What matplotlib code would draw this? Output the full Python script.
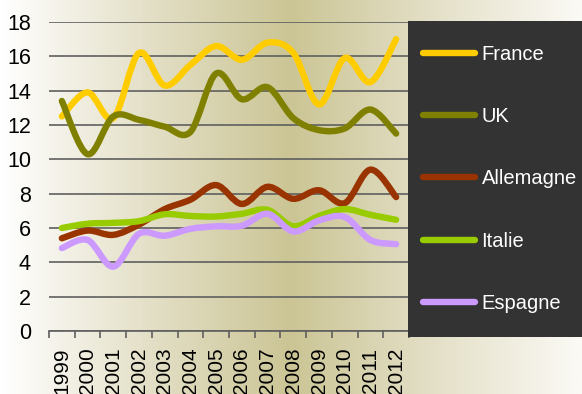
import numpy as np
import matplotlib.pyplot as plt
from matplotlib.path import Path
from matplotlib.patches import PathPatch
from matplotlib.lines import Line2D
from matplotlib.colors import LinearSegmentedColormap

plt.rcParams['font.family'] = ['Liberation Sans', 'DejaVu Sans']

years = [str(y) for y in range(1999, 2013)]
france = [12.5, 13.9, 12.4, 16.2, 14.3, 15.5, 16.6, 15.8, 16.8, 16.2, 13.2, 15.9, 14.5, 17.0]
uk = [13.4, 10.3, 12.5, 12.3, 11.9, 11.6, 15.0, 13.5, 14.2, 12.4, 11.7, 11.8, 12.9, 11.5]
allemagne = [5.4, 5.85, 5.6, 6.2, 7.1, 7.65, 8.5, 7.4, 8.4, 7.7, 8.2, 7.45, 9.4, 7.8]
italie = [6.0, 6.25, 6.3, 6.4, 6.8, 6.7, 6.67, 6.83, 7.06, 6.1, 6.7, 7.1, 6.77, 6.48]
espagne = [4.83, 5.3, 3.75, 5.66, 5.55, 5.95, 6.1, 6.13, 6.83, 5.8, 6.44, 6.64, 5.3, 5.06]

series = [
    ('France', france, '#FFCC00'),
    ('UK', uk, '#808000'),
    ('Allemagne', allemagne, '#993300'),
    ('Italie', italie, '#99CC00'),
    ('Espagne', espagne, '#CC99FF'),
]


def smooth_path(xs, ys):
    # Bezier smoothing through every point (same idea as spreadsheet "smoothed line")
    p = np.column_stack([xs, ys]).astype(float)
    ext = np.vstack([p[0], p, p[-1]])
    verts = [p[0]]
    codes = [Path.MOVETO]
    for i in range(len(p) - 1):
        c1 = ext[i + 1] + (ext[i + 2] - ext[i]) / 6.0
        c2 = ext[i + 2] - (ext[i + 3] - ext[i + 1]) / 6.0
        verts += [c1, c2, ext[i + 2]]
        codes += [Path.CURVE4] * 3
    return Path(verts, codes)


fig = plt.figure(figsize=(5.82, 3.94), dpi=100)

# horizontal gradient behind everything
bg = fig.add_axes([0, 0, 1, 1], zorder=-10)
cmap = LinearSegmentedColormap.from_list(
    'bg', ['#ffffff', '#e4e0c8', '#cbc595', '#e4e0c8', '#fbfaf5'])
bg.imshow(np.linspace(0, 1, 256)[None, :], aspect='auto', cmap=cmap,
          extent=[0, 1, 0, 1])
bg.axis('off')

ax = fig.add_axes([49 / 582, 1 - 331 / 394, 360 / 582, 309 / 394])
ax.set_facecolor('none')

x = np.arange(len(years))
for name, vals, color in series:
    patch = PathPatch(smooth_path(x, vals), fill=False, edgecolor=color,
                      lw=4.6, capstyle='round', joinstyle='round', zorder=3)
    ax.add_patch(patch)

ax.set_xlim(-0.5, len(years) - 0.5)
ax.set_ylim(0, 18)
ax.set_yticks(range(0, 19, 2))
ax.yaxis.grid(True, color='#5f5f5f', lw=1.2)
ax.set_axisbelow(True)
ax.tick_params(axis='y', length=0, pad=13, labelsize=15.5)

ax.set_xticks(x)
ax.set_xticklabels(years, rotation=90)
ax.set_xticks(np.arange(-0.5, len(years), 1), minor=True)
ax.tick_params(axis='x', which='major', length=0, pad=12, labelsize=15)
ax.tick_params(axis='x', which='minor', length=5, width=1.2, color='#5f5f5f')

for s in ['left', 'top', 'right']:
    ax.spines[s].set_visible(False)
ax.spines['bottom'].set_color('#5f5f5f')
ax.spines['bottom'].set_linewidth(1.2)

# legend panel
lax = fig.add_axes([408 / 582, 1 - 337 / 394, 174 / 582, 316 / 394])
lax.set_facecolor('#333333')
lax.set_xticks([])
lax.set_yticks([])
for s in lax.spines.values():
    s.set_visible(False)
handles = [Line2D([], [], color=c, lw=4.6, solid_capstyle='round') for _, _, c in series]
leg = lax.legend(handles, [n for n, _, _ in series], loc='center left',
                 bbox_to_anchor=(0.0, 0.5), frameon=False, labelcolor='white',
                 fontsize=14.5, handlelength=2.6, handletextpad=0.3,
                 labelspacing=2.15, borderaxespad=0.0, borderpad=0.75)

fig.savefig('out.png', dpi=100)
